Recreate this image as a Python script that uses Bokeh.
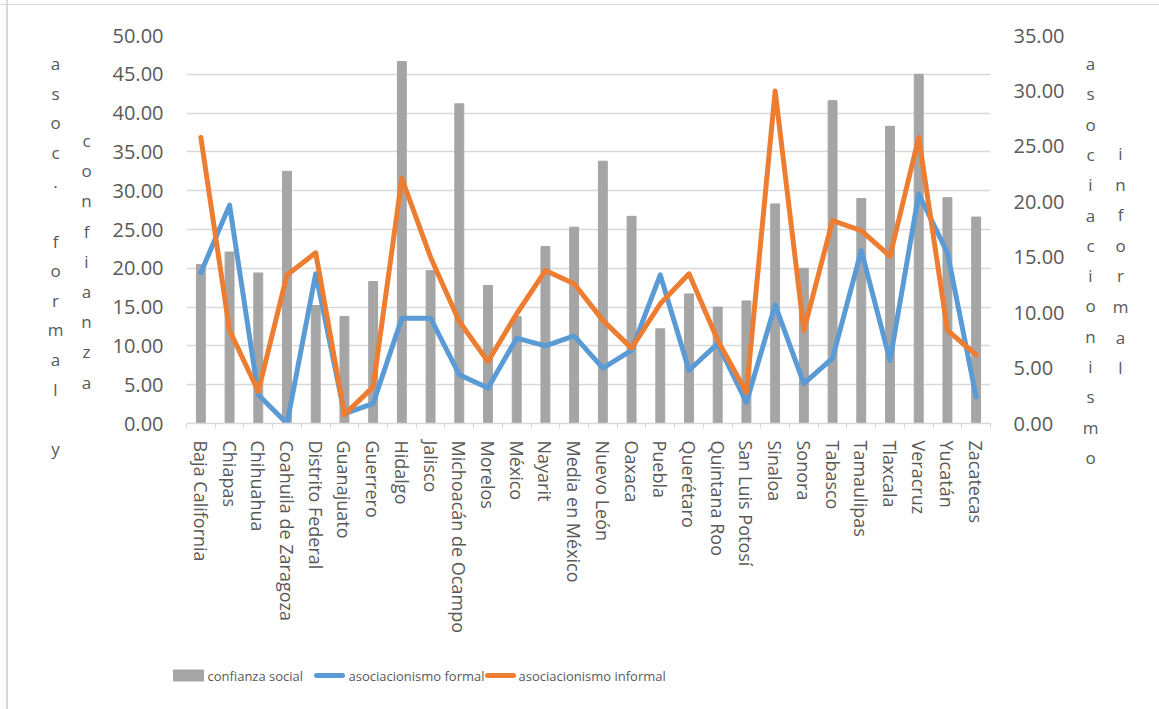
from bokeh.plotting import figure
from bokeh.layouts import row, column
from bokeh.models import Range1d, LinearAxis, FixedTicker, NumeralTickFormatter
from bokeh.core.properties import value
from bokeh.embed import file_html
from bokeh.resources import INLINE

# ---- data -------------------------------------------------------------
estados = [
    "Baja California", "Chiapas", "Chihuahua", "Coahuila de Zaragoza",
    "Distrito Federal", "Guanajuato", "Guerrero", "Hidalgo", "Jalisco",
    "Michoacán de Ocampo", "Morelos", "México", "Nayarit", "Media en México",
    "Nuevo León", "Oaxaca", "Puebla", "Querétaro", "Quintana Roo",
    "San Luis Potosí", "Sinaloa", "Sonora", "Tabasco", "Tamaulipas",
    "Tlaxcala", "Veracruz", "Yucatán", "Zacatecas",
]
confianza_social = [
    20.5, 22.1, 19.4, 32.5, 15.2, 13.8, 18.3, 46.65, 19.7, 41.2, 17.8, 13.8,
    22.8, 25.3, 33.8, 26.7, 12.2, 16.7, 15.0, 15.8, 28.3, 20.0, 41.6, 29.0,
    38.3, 45.0, 29.1, 26.6,
]
asoc_formal = [
    13.6, 19.7, 2.6, 0.0, 13.5, 0.9, 1.8, 9.5, 9.5, 4.4, 3.2, 7.7, 7.0, 7.9,
    5.0, 6.6, 13.4, 4.8, 7.2, 1.9, 10.7, 3.6, 5.9, 15.6, 5.7, 20.7, 15.4, 2.4,
]
asoc_informal = [
    25.8, 8.4, 2.9, 13.4, 15.4, 0.8, 3.3, 22.1, 15.0, 9.2, 5.6, 9.9, 13.8, 12.6,
    9.3, 6.8, 10.8, 13.5, 7.5, 2.8, 30.0, 8.4, 18.3, 17.4, 15.1, 25.8, 8.4, 6.2,
]
left_ticks = [0, 5, 10, 15, 20, 25, 30, 35, 40, 45, 50]
right_ticks = [0, 5, 10, 15, 20, 25, 30, 35]

titulo_izq_1 = "asoc. formal y"
titulo_izq_2 = "confianza"
titulo_der_1 = "asociacionismo"
titulo_der_2 = "informal"

serie_nombres = ["confianza social", "asociacionismo formal", "asociacionismo informal"]
serie_colores = ["#A5A5A5", "#5B9BD5", "#ED7D31"]

# ---- sizes ------------------------------------------------------------
W, H = 1159, 709
LEFT_W, RIGHT_W = 100, 84
MAIN_W = W - LEFT_W - RIGHT_W
TOP_H = 650
LEG_H = H - TOP_H
GRAY_TXT = "#595959"
GRID = "#d9d9d9"
FONT = "Open Sans"


def panel(width, height):
    """A plain figure whose frame fills its canvas, y measured downward in px."""
    f = figure(width=width, height=height, output_backend="svg", toolbar_location=None,
               x_range=Range1d(0, width), y_range=Range1d(height, 0),
               min_border=0, outline_line_color=None)
    f.frame_align = False
    f.axis.visible = False
    f.grid.visible = False
    f.background_fill_alpha = 0
    f.border_fill_alpha = 0
    return f


# ---- main chart -------------------------------------------------------
xs = list(range(len(estados)))

p = figure(width=MAIN_W, height=TOP_H, output_backend="svg", toolbar_location=None,
           x_range=Range1d(-0.5, len(estados) - 0.5), y_range=Range1d(0, 50),
           min_border_left=86, min_border_right=85,
           min_border_top=35, min_border_bottom=TOP_H - 423)
p.frame_align = False
p.outline_line_color = None
p.background_fill_color = "white"
p.border_fill_alpha = 0
p.extra_y_ranges = {"der": Range1d(0, 35)}

p.xgrid.visible = False
p.ygrid.grid_line_color = GRID
p.ygrid.grid_line_width = 1.3
p.ygrid.ticker = FixedTicker(ticks=left_ticks)

ya = p.yaxis[0]
ya.ticker = FixedTicker(ticks=left_ticks)
ya.formatter = NumeralTickFormatter(format="0.00")

yr = LinearAxis(y_range_name="der", ticker=FixedTicker(ticks=right_ticks),
                formatter=NumeralTickFormatter(format="0.00"))
p.add_layout(yr, "right")

for ax in (ya, yr):
    ax.axis_line_color = None
    ax.major_tick_line_color = None
    ax.minor_tick_line_color = None
    ax.major_tick_out = 0
    ax.major_tick_in = 0
    ax.major_label_standoff = 23
    ax.major_label_text_font = FONT
    ax.major_label_text_font_size = "20px"
    ax.major_label_text_color = GRAY_TXT

xa = p.xaxis[0]
xa.ticker = FixedTicker(ticks=xs, minor_ticks=[i - 0.5 for i in range(len(estados) + 1)])
xa.major_label_overrides = {i: n for i, n in enumerate(estados)}
xa.major_label_orientation = "vertical"
xa.axis_line_color = GRID
xa.axis_line_width = 1.3
xa.major_tick_line_color = None
xa.major_tick_out = 0
xa.major_tick_in = 0
xa.minor_tick_line_color = GRID
xa.minor_tick_out = 5
xa.minor_tick_in = 0
xa.major_label_standoff = 12
xa.major_label_text_font = FONT
xa.major_label_text_font_size = "18px"
xa.major_label_text_color = GRAY_TXT

p.vbar(x=xs, top=confianza_social, width=0.31, color=serie_colores[0])
p.line(xs, asoc_formal, y_range_name="der", color=serie_colores[1],
       line_width=5, line_join="round", line_cap="round")
p.line(xs, asoc_informal, y_range_name="der", color=serie_colores[2],
       line_width=5, line_join="round", line_cap="round")


# ---- stacked axis titles (one letter per row) ----------------------------
def stacked(fig, text, cx, cy0, step):
    letters = [c for c in text]
    ys = [cy0 + k * step for k in range(len(letters))]
    keep = [(c, y) for c, y in zip(letters, ys) if c != " "]
    fig.text(x=[cx] * len(keep), y=[y for _, y in keep], text=[c for c, _ in keep],
             text_font=value(FONT), text_font_size="17px", text_color=GRAY_TXT,
             text_align="center", text_baseline="middle")


left = panel(LEFT_W, TOP_H)
stacked(left, titulo_izq_1, 55, 63, 29.6)
stacked(left, titulo_izq_2, 86, 140, 30.2)

right = panel(RIGHT_W, TOP_H)
stacked(right, titulo_der_1, 1090 - (LEFT_W + MAIN_W), 63, 30.3)
stacked(right, titulo_der_2, 1120 - (LEFT_W + MAIN_W), 153, 30.6)

# ---- legend strip -----------------------------------------------------
leg = panel(W, LEG_H)
LY = 675 - TOP_H
leg.quad(left=[173], right=[203], top=[LY - 5.5], bottom=[LY + 5.5],
         color=serie_colores[0])
leg.segment(x0=[316, 487], x1=[342, 513], y0=[LY, LY], y1=[LY, LY],
            color=serie_colores[1:], line_width=5, line_cap="round")
leg.text(x=[207, 348, 518], y=[LY, LY, LY], text=serie_nombres,
         text_font=value(FONT), text_font_size="13px", text_color=GRAY_TXT,
         text_align="left", text_baseline="middle")

layout = column(row(left, p, right, spacing=0), leg, spacing=0)
# thin frame lines along the left and top edge of the chart area
layout.styles = {
    "background-color": "white",
    "background-image": (
        "linear-gradient(to right, transparent 6px, #d9d9d9 6px, #d9d9d9 8px, transparent 8px),"
        "linear-gradient(to bottom, transparent 4px, #d9d9d9 4px, #d9d9d9 5.5px, transparent 5.5px)"
    ),
}

open("out.html", "w").write(file_html(layout, INLINE))
